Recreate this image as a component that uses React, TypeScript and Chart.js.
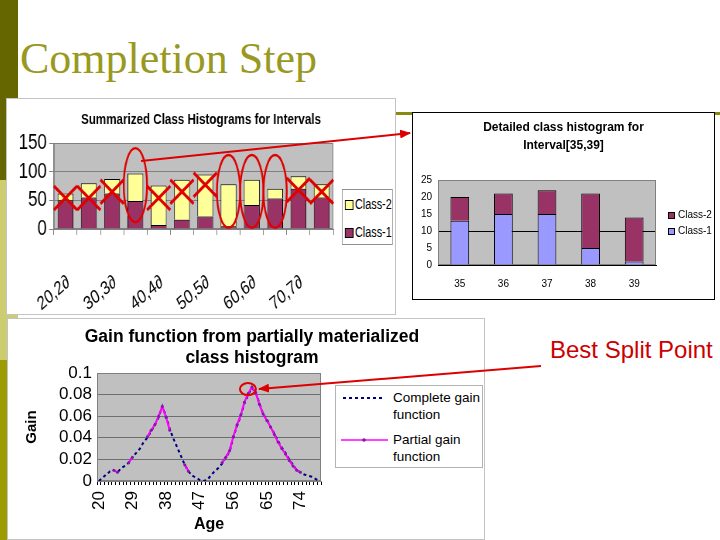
import React, { useEffect, useRef } from 'react';
import { Chart, registerables } from 'chart.js';

Chart.register(...registerables);

const SANS = "'Liberation Sans', Arial, Helvetica, sans-serif";
const RED = '#e00000';

// ---------- Summarized class histograms ----------
const intervalLabels = ['20,2∂', '25,2∂', '30,3∂', '35,3∂', '40,4∂', '45,4∂', '50,5∂', '55,5∂', '60,6∂', '65,6∂', '70,7∂', '75,7∂'];
const summaryClass1 = [50, 55, 62, 49, 7, 16, 22, 5, 42, 53, 70, 55];
const summaryClass2 = [12, 25, 25, 48, 69, 70, 73, 73, 44, 17, 22, 23];
const crossedIntervals = [0, 1, 2, 4, 5, 6, 10, 11];
const crossLevels = [54, 54, 65, 54, 65, 77, 68, 65];
const circledIntervals = [3, 7, 8, 9];
const circleLow = [12, 2, 2, 2];
const circleHigh = [141, 129, 129, 129];

// ---------- Detailed class histogram ----------
const detailAges = ['35', '36', '37', '38', '39'];
const detailClass1 = [13, 15, 15, 5, 1];
const detailClass2 = [7, 6, 7, 16, 13];

// ---------- Gain function ----------
const ages = [
  '20', '21', '22', '23', '24', '25', '26', '27', '28', '29',
  '30', '31', '32', '33', '34', '35', '36', '37', '38', '39',
  '40', '41', '42', '43', '44', '45', '46', '47', '48', '49',
  '50', '51', '52', '53', '54', '55', '56', '57', '58', '59',
  '60', '61', '62', '63', '64', '65', '66', '67', '68', '69',
  '70', '71', '72', '73', '74', '75', '76', '77', '78', '79',
];
const ageTickLabels = ['20', '29', '38', '47', '56', '65', '74'];
const completeGain = [
  0.000, 0.003, 0.006, 0.009, 0.010, 0.008, 0.012, 0.014, 0.017, 0.022,
  0.026, 0.030, 0.036, 0.040, 0.046, 0.052, 0.059, 0.069, 0.060, 0.048,
  0.039, 0.031, 0.023, 0.015, 0.009, 0.005, 0.003, 0.001, 0.000, 0.001,
  0.005, 0.009, 0.012, 0.016, 0.022, 0.027, 0.040, 0.051, 0.060, 0.072,
  0.080, 0.086, 0.082, 0.072, 0.062, 0.057, 0.050, 0.044, 0.037, 0.031,
  0.026, 0.020, 0.015, 0.010, 0.008, 0.006, 0.005, 0.004, 0.002, 0.000,
];
const partialGain = [
  null, null, null, null, 0.010, 0.008, null, null, 0.017, 0.022,
  null, null, null, 0.041, 0.047, 0.052, 0.060, 0.069, 0.059, 0.047,
  null, null, null, 0.015, 0.009, null, null, null, null, null,
  null, null, null, 0.017, 0.022, 0.028, 0.041, 0.052, 0.061, 0.073,
  0.081, 0.087, 0.082, 0.071, 0.062, 0.056, 0.050, 0.043, 0.036, 0.030,
  0.025, 0.019, 0.014, 0.010, 0.008, null, null, null, null, null,
];
const bestSplitAge = '61';

// chart 1 is drawn wide and squeezed horizontally, like the pasted picture
const S1 = 390 / 504;

function plotFrame(fill: string, stroke: string) {
  return {
    id: 'plotFrame',
    beforeDraw(chart: any) {
      const { ctx, chartArea } = chart;
      ctx.save();
      ctx.fillStyle = fill;
      ctx.fillRect(chartArea.left, chartArea.top, chartArea.width, chartArea.height);
      ctx.restore();
    },
    beforeDatasetsDraw(chart: any) {
      const { ctx, chartArea } = chart;
      ctx.save();
      ctx.strokeStyle = stroke;
      ctx.lineWidth = 1;
      ctx.strokeRect(chartArea.left + 0.5, chartArea.top + 0.5, chartArea.width - 1, chartArea.height - 1);
      ctx.restore();
    },
  };
}

// invisible right-hand axis that only reserves room for the legend
function spacerAxis(width: number): any {
  return {
    position: 'right',
    display: true,
    grid: { display: false },
    border: { display: false },
    ticks: { display: false },
    afterFit: (s: any) => { s.width = width; },
  };
}

const summaryMarks = {
  id: 'summaryMarks',
  afterDatasetsDraw(chart: any) {
    const { ctx } = chart;
    const x = chart.scales.x;
    const y = chart.scales.y;
    const half = (x.getPixelForValue(1) - x.getPixelForValue(0)) / 2;
    ctx.save();
    ctx.strokeStyle = RED;
    ctx.lineWidth = 2.4;
    circledIntervals.forEach((idx, k) => {
      const cx = x.getPixelForValue(idx);
      const yTop = y.getPixelForValue(circleHigh[k]);
      const yBot = y.getPixelForValue(circleLow[k]);
      ctx.beginPath();
      ctx.ellipse(cx, (yTop + yBot) / 2, half, (yBot - yTop) / 2, 0, 0, Math.PI * 2);
      ctx.stroke();
    });
    ctx.lineWidth = 3.2;
    crossedIntervals.forEach((idx, k) => {
      const cx = x.getPixelForValue(idx);
      const cy = y.getPixelForValue(crossLevels[k]);
      const sx = half;
      const sy = 12;
      ctx.beginPath();
      ctx.moveTo(cx - sx, cy - sy);
      ctx.lineTo(cx + sx, cy + sy);
      ctx.moveTo(cx + sx, cy - sy);
      ctx.lineTo(cx - sx, cy + sy);
      ctx.stroke();
    });
    ctx.restore();
  },
};

const bestSplitMark = {
  id: 'bestSplitMark',
  afterDatasetsDraw(chart: any) {
    const { ctx } = chart;
    const idx = ages.indexOf(bestSplitAge);
    const cx = chart.scales.x.getPixelForValue(idx);
    const cy = chart.scales.y.getPixelForValue(completeGain[idx]);
    ctx.save();
    ctx.strokeStyle = RED;
    ctx.lineWidth = 2;
    ctx.beginPath();
    ctx.ellipse(cx - 4, cy + 1, 8, 6, 0, 0, Math.PI * 2);
    ctx.stroke();
    ctx.restore();
  },
};

function summaryConfig(): any {
  return {
    type: 'bar',
    data: {
      labels: intervalLabels,
      datasets: [
        { label: 'Class-1', data: summaryClass1, backgroundColor: '#993366', borderColor: '#000', borderWidth: 1, barPercentage: 0.68, categoryPercentage: 1 },
        { label: 'Class-2', data: summaryClass2, backgroundColor: '#ffff99', borderColor: '#000', borderWidth: 1, barPercentage: 0.68, categoryPercentage: 1 },
      ],
    },
    options: {
      responsive: false,
      animation: false,
      layout: { padding: 0 },
      plugins: {
        legend: { display: false },
        tooltip: { enabled: false },
        title: {
          display: true,
          text: 'Summarized Class Histograms for Intervals',
          color: '#000',
          font: { family: SANS, size: 15, weight: 'bold' },
          padding: { top: 13, bottom: 14 },
        },
      },
      scales: {
        x: {
          stacked: true,
          grid: { drawOnChartArea: false, color: '#808080', tickLength: 6 },
          border: { color: '#808080' },
          ticks: {
            autoSkip: false,
            minRotation: 34,
            maxRotation: 34,
            padding: 36,
            labelOffset: 4,
            color: '#000',
            font: { family: SANS, size: 19 },
            callback: function (this: any, v: any, i: number) {
              return i % 2 === 0 ? this.getLabelForValue(v) : '';
            },
          },
          afterFit: (s: any) => { s.height = 86; },
        },
        y: {
          stacked: true,
          min: 0,
          max: 150,
          ticks: { stepSize: 50, autoSkip: false, color: '#000', font: { family: SANS, size: 22 }, padding: 3 },
          grid: { color: '#808080', tickLength: 6 },
          border: { color: '#808080' },
          afterFit: (s: any) => { s.width = 59; },
        },
        yRight: spacerAxis(81),
      },
    },
    plugins: [plotFrame('#c0c0c0', '#808080'), summaryMarks],
  };
}

function detailConfig(): any {
  return {
    type: 'bar',
    data: {
      labels: detailAges,
      datasets: [
        { label: 'Class-1', data: detailClass1, backgroundColor: '#9999ff', borderColor: '#000', borderWidth: 1, barPercentage: 0.43, categoryPercentage: 1 },
        { label: 'Class-2', data: detailClass2, backgroundColor: '#993366', borderColor: '#000', borderWidth: 1, barPercentage: 0.43, categoryPercentage: 1 },
      ],
    },
    options: {
      responsive: false,
      animation: false,
      layout: { padding: 0 },
      plugins: {
        legend: { display: false },
        tooltip: { enabled: false },
        title: {
          display: true,
          text: ['Detailed class histogram for', 'Interval[35,39]'],
          color: '#000',
          font: { family: SANS, size: 12, weight: 'bold', lineHeight: 1.5 },
          padding: { top: 7, bottom: 25 },
        },
      },
      scales: {
        x: {
          stacked: true,
          grid: { display: false },
          border: { color: '#000' },
          ticks: { color: '#000', font: { family: SANS, size: 10 }, padding: 5 },
          afterFit: (s: any) => { s.height = 35; },
        },
        y: {
          stacked: true,
          min: 0,
          max: 25,
          ticks: { stepSize: 5, autoSkip: false, color: '#000', font: { family: SANS, size: 10 }, padding: 6 },
          grid: {
            drawTicks: false,
            color: (c: any) => (c.tick && c.tick.value === 10 ? '#000' : 'rgba(0,0,0,0)'),
          },
          border: { display: false },
          afterFit: (s: any) => { s.width = 26; },
        },
        yRight: spacerAxis(59),
      },
    },
    plugins: [plotFrame('#c0c0c0', '#808080')],
  };
}

function gainConfig(): any {
  return {
    type: 'line',
    data: {
      labels: ages,
      datasets: [
        { label: 'Complete gain function', data: completeGain, order: 1, borderColor: '#000080', backgroundColor: '#000080', borderWidth: 2, borderDash: [3, 3], pointRadius: 0, tension: 0 },
        { label: 'Partial gain function', data: partialGain, order: 0, borderColor: '#ff00ff', backgroundColor: '#7a1fa0', borderWidth: 2, pointRadius: 1.5, pointBorderWidth: 0, spanGaps: false, tension: 0 },
      ],
    },
    options: {
      responsive: false,
      animation: false,
      layout: { padding: { left: 12, right: 0, top: 0, bottom: 2 } },
      plugins: {
        legend: { display: false },
        tooltip: { enabled: false },
        title: {
          display: true,
          text: ['Gain function from partially materialized', 'class histogram'],
          color: '#000',
          font: { family: SANS, size: 17.5, weight: 'bold', lineHeight: 1.2 },
          padding: { top: 8.5, bottom: 4.5 },
        },
      },
      scales: {
        x: {
          offset: true,
          grid: { drawOnChartArea: false, color: '#000', tickLength: 4, offset: true },
          border: { color: '#808080' },
          ticks: {
            autoSkip: false,
            minRotation: 90,
            maxRotation: 90,
            padding: 6,
            color: '#000',
            font: { family: SANS, size: 17 },
            callback: function (this: any, v: any) {
              const l = this.getLabelForValue(v);
              return ageTickLabels.includes(l) ? l : '';
            },
          },
          title: { display: true, text: 'Age', color: '#000', font: { family: SANS, size: 16, weight: 'bold' }, padding: { top: 0, bottom: 4 } },
          afterFit: (s: any) => { s.height = 57; },
        },
        y: {
          min: 0,
          max: 0.1,
          ticks: {
            stepSize: 0.02,
            autoSkip: false,
            color: '#000',
            font: { family: SANS, size: 17 },
            padding: 5,
            callback: (v: any) => String(Number(Number(v).toFixed(2))),
          },
          grid: { color: '#6e6e6e', drawTicks: false },
          border: { color: '#808080' },
          title: { display: true, text: 'Gain', color: '#000', font: { family: SANS, size: 15, weight: 'bold' }, padding: { top: 4, bottom: 0 } },
          afterFit: (s: any) => { s.width = 78; },
        },
        yRight: spacerAxis(164),
      },
    },
    plugins: [plotFrame('#c0c0c0', '#808080'), bestSplitMark],
  };
}

function ChartBox(props: {
  left: number; top: number; width: number; height: number; border: string;
  makeConfig: () => any; scaleX?: number; children?: any;
}) {
  const { left, top, width, height, border, makeConfig, children } = props;
  const sx = props.scaleX || 1;
  const innerW = Math.round(width / sx);
  const ref = useRef<HTMLCanvasElement | null>(null);
  useEffect(() => {
    if (!ref.current) return;
    const chart = new Chart(ref.current, makeConfig());
    return () => chart.destroy();
  }, []);
  return (
    <div style={{ position: 'absolute', left, top, width, height, background: '#fff', boxShadow: `inset 0 0 0 1px ${border}` }}>
      <div style={{ position: 'absolute', left: 0, top: 0, width: innerW, height, transform: sx === 1 ? undefined : `scaleX(${sx})`, transformOrigin: '0 0' }}>
        <canvas ref={ref} width={innerW} height={height} style={{ position: 'absolute', left: 0, top: 0, width: innerW, height }} />
        {children}
      </div>
    </div>
  );
}

const abs = (left: number, top: number, extra: any = {}) => ({ position: 'absolute' as const, left, top, ...extra });

export default function App() {
  return (
    <div style={{ position: 'fixed', left: 0, top: 0, width: 720, height: 540, background: '#fff', overflow: 'hidden', fontFamily: SANS }}>
      {/* slide decoration */}
      <div style={abs(0, 0, { width: 18, height: 180, background: '#666600' })} />
      <div style={abs(0, 180, { width: 18, height: 180, background: '#cccc70' })} />
      <div style={abs(0, 360, { width: 18, height: 180, background: '#9c9c00' })} />
      <div style={abs(18, 112, { width: 702, height: 3, background: '#8a8a10' })} />
      <div style={abs(20, 37, { fontFamily: "'Liberation Serif', 'Times New Roman', serif", fontSize: 44, lineHeight: '44px', color: '#99991f', whiteSpace: 'nowrap' })}>Completion Step</div>

      <ChartBox left={6} top={98} width={390} height={217} border="#c4c4c4" makeConfig={summaryConfig} scaleX={S1}>
        {/* legend: summarized (inside the squeezed picture) */}
        <div style={abs(434, 91, { width: 64, height: 54, border: '1px solid #909090', background: '#fff', fontSize: 14, color: '#000' })}>
          <div style={abs(3, 10, { width: 9, height: 8, background: '#ffff99', border: '1px solid #000' })} />
          <div style={abs(16, 6, { lineHeight: '17px', whiteSpace: 'nowrap' })}>Class-2</div>
          <div style={abs(3, 38, { width: 9, height: 8, background: '#993366', border: '1px solid #000' })} />
          <div style={abs(16, 34, { lineHeight: '17px', whiteSpace: 'nowrap' })}>Class-1</div>
        </div>
      </ChartBox>
      <ChartBox left={412} top={112} width={303} height={188} border="#000" makeConfig={detailConfig} />
      <ChartBox left={7} top={318} width={478} height={222} border="#c4c4c4" makeConfig={gainConfig} />

      {/* legend: detailed */}
      <div style={abs(668, 206, { fontSize: 10, color: '#000' })}>
        <div style={abs(0, 6, { width: 5, height: 5, background: '#993366', border: '1px solid #000' })} />
        <div style={abs(10, 2, { lineHeight: '14px', whiteSpace: 'nowrap' })}>Class-2</div>
        <div style={abs(0, 22, { width: 5, height: 5, background: '#9999ff', border: '1px solid #000' })} />
        <div style={abs(10, 18, { lineHeight: '14px', whiteSpace: 'nowrap' })}>Class-1</div>
      </div>

      {/* legend: gain */}
      <div style={abs(335, 385, { width: 146, height: 81, border: '1px solid #b4b4b4', background: '#fff', fontSize: 13.5, color: '#000' })}>
        <svg width={56} height={81} style={abs(0, 0)}>
          <line x1={7} y1={12} x2={48} y2={12} stroke="#000080" strokeWidth={2} strokeDasharray="3 3" />
          <line x1={5} y1={54} x2={52} y2={54} stroke="#ff00ff" strokeWidth={1.5} />
          <circle cx={28} cy={54} r={1.8} fill="#7a1fa0" />
        </svg>
        <div style={abs(57, 3, { lineHeight: '17px', whiteSpace: 'nowrap' })}>Complete gain<br />function</div>
        <div style={abs(57, 45, { lineHeight: '17px', whiteSpace: 'nowrap' })}>Partial gain<br />function</div>
      </div>

      <div style={abs(550, 336, { fontSize: 24, lineHeight: '28px', color: '#cc0000', whiteSpace: 'nowrap' })}>Best Split Point</div>

      <svg width={720} height={540} style={abs(0, 0, { pointerEvents: 'none' })}>
        <defs>
          <marker id="ah" markerWidth={11} markerHeight={9} refX={10} refY={4.5} orient="auto" markerUnits="userSpaceOnUse">
            <path d="M0,0 L11,4.5 L0,9 z" fill="#dd0000" />
          </marker>
        </defs>
        <line x1={141} y1={161} x2={410} y2={133} stroke="#dd0000" strokeWidth={2} markerEnd="url(#ah)" />
        <line x1={541} y1={366} x2={259} y2={389} stroke="#dd0000" strokeWidth={2} markerEnd="url(#ah)" />
      </svg>
    </div>
  );
}
